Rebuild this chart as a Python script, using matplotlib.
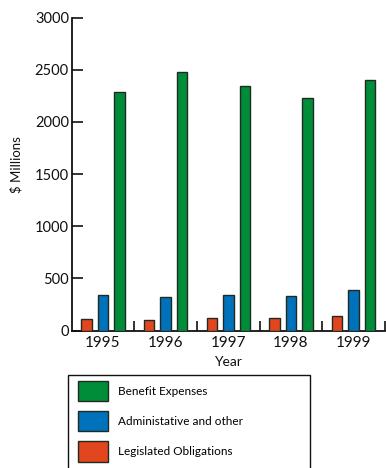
import matplotlib
matplotlib.use("Agg")
import matplotlib.pyplot as plt
import numpy as np
from matplotlib.patches import Rectangle, Patch

years = ["1995", "1996", "1997", "1998", "1999"]
legislated = [110, 98, 117, 123, 142]
administrative = [337, 318, 340, 334, 385]
benefit = [2290, 2475, 2347, 2232, 2402]

series_names = ["Legislated Obligations", "Administative and other", "Benefit Expenses"]
colors = ["#E2461F", "#0072BC", "#008D3A"]

plt.rcParams["font.family"] = ["Lato", "DejaVu Sans"]

W, H = 386, 468
fig = plt.figure(figsize=(W / 100, H / 100), dpi=100)
ax = fig.add_axes([71.7 / W, 1 - 330.5 / H, (385 - 71.7) / W, (330.5 - 17.5) / H])

x = np.arange(len(years))
width = 0.167
step = 0.263
for i, (vals, col) in enumerate(zip([legislated, administrative, benefit], colors)):
    ax.bar(x + (i - 1) * step, vals, width=width, color=col,
           edgecolor="#1f2a22", linewidth=1.0, zorder=3)

ax.set_xlim(-0.5, len(years) - 0.5)
ax.set_ylim(0, 3000)
ax.set_yticks([0, 500, 1000, 1500, 2000, 2500, 3000])
ax.tick_params(axis="y", direction="in", length=8, width=1.2, labelsize=10.5,
               colors="#111111", pad=2)
ax.set_xticks(x)
ax.set_xticklabels(years)
ax.tick_params(axis="x", which="major", length=0, labelsize=11, pad=4,
               colors="#111111")
ax.set_xticks(np.arange(0.5, len(years), 1.0), minor=True)
ax.tick_params(axis="x", which="minor", direction="in", length=7, width=1.2,
               color="#111111")

for s in ["top", "right"]:
    ax.spines[s].set_visible(False)
for s in ["left", "bottom"]:
    ax.spines[s].set_linewidth(1.3)
    ax.spines[s].set_color("#111111")

ax.set_xlabel("Year", fontsize=10, labelpad=4, color="#111111")
fig.text(16 / W, 1 - 165 / H, "$ Millions", rotation=90, ha="center",
         va="center", fontsize=9.5, color="#111111")

# legend frame, running off the bottom edge
fig.patches.append(Rectangle((68 / W, -0.05), (310 - 68) / W, 1 - 375 / H + 0.05,
                             transform=fig.transFigure, fill=False,
                             edgecolor="#111111", linewidth=1.0))
handles = [Patch(facecolor=c, edgecolor="#1f2a22", linewidth=1.0, label=n)
           for n, c in zip(series_names, colors)]
handles = handles[::-1]
fig.legend(handles=handles, loc="upper left",
           bbox_to_anchor=(78 / W, 1 - 381 / H), frameon=False,
           fontsize=8.5, handlelength=2.54, handleheight=2.25,
           labelspacing=0.85, handletextpad=0.85, borderpad=0,
           borderaxespad=0)

fig.savefig("out.png", dpi=100)
